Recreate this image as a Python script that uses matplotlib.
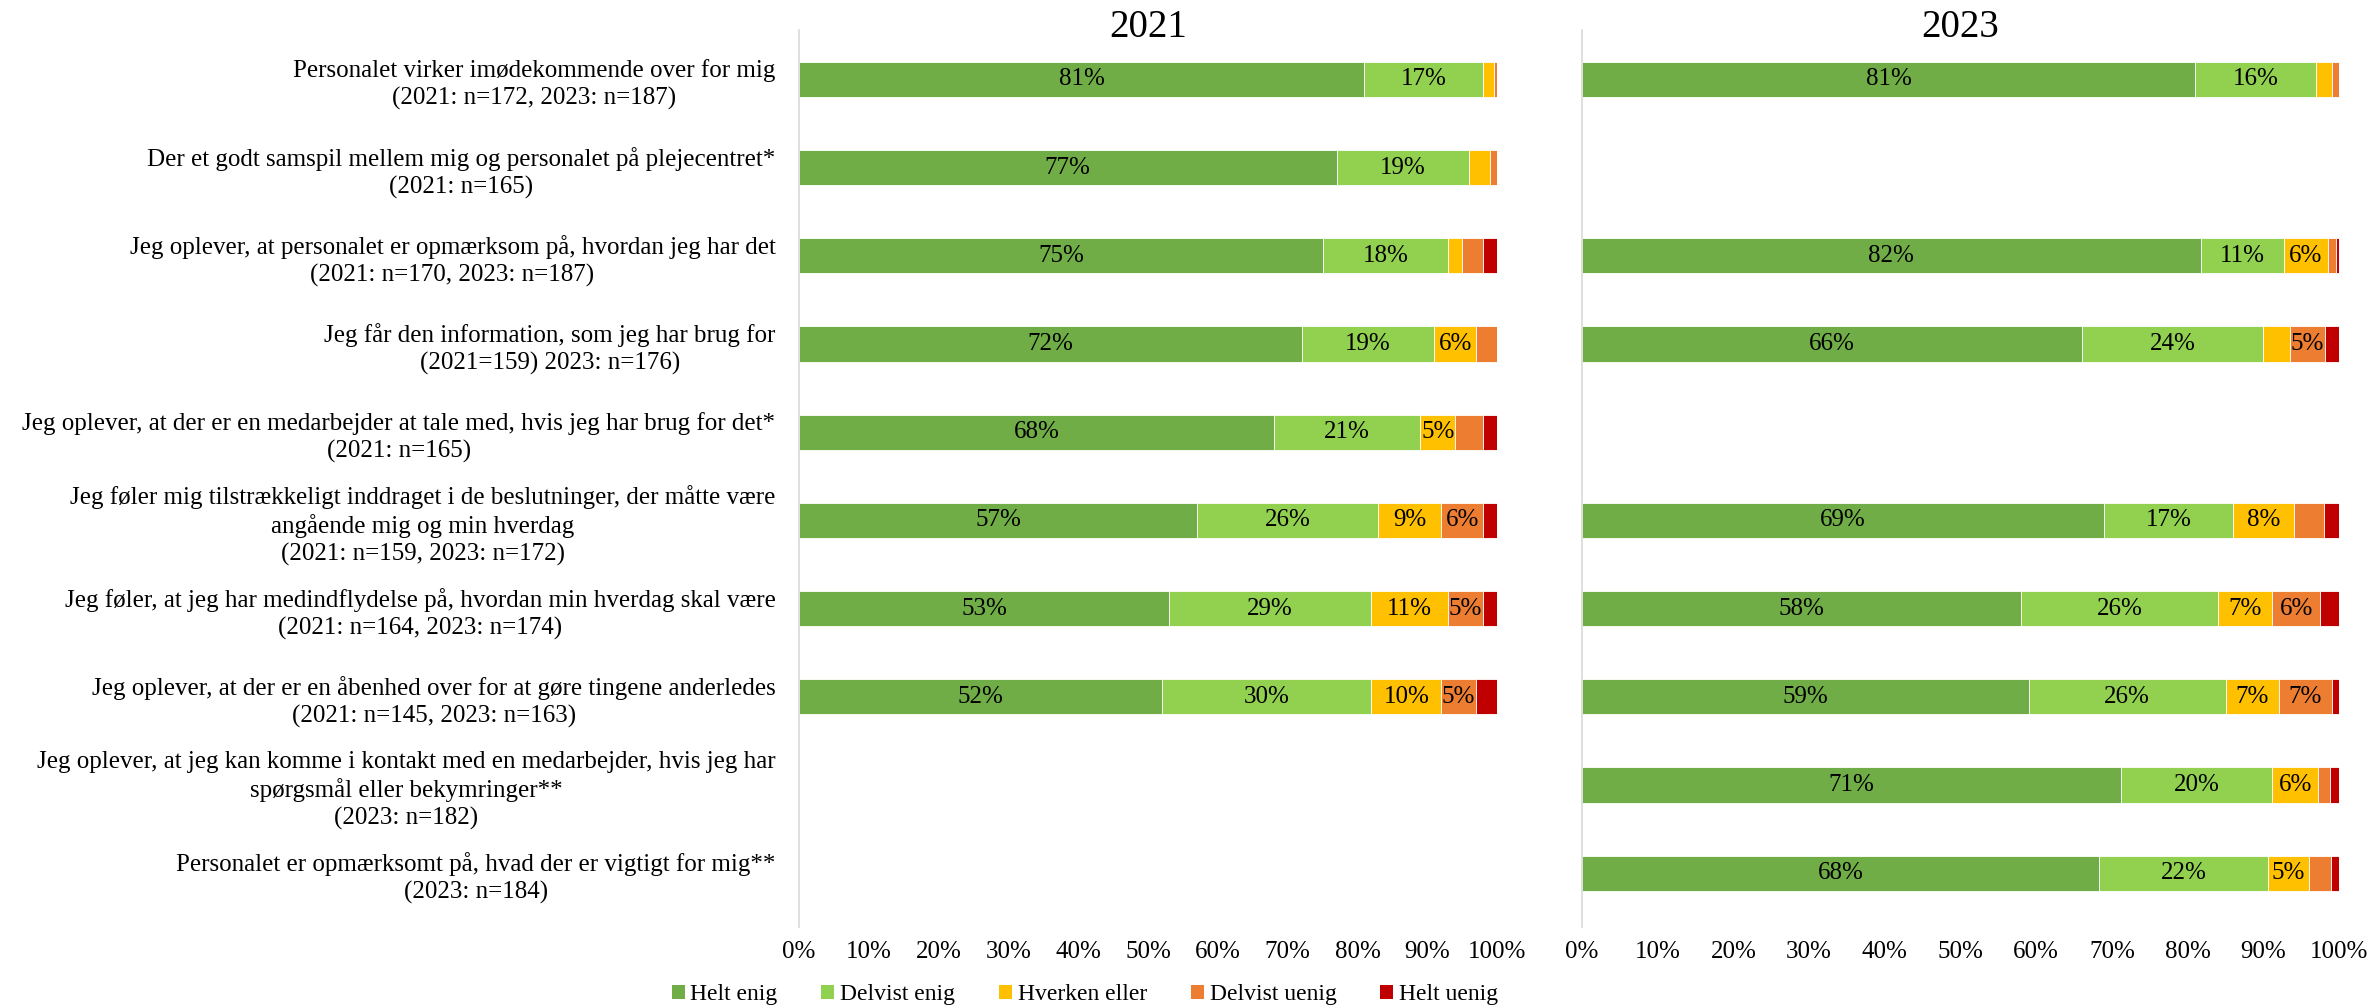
import numpy as np
import matplotlib
matplotlib.use("Agg")
import matplotlib.pyplot as plt
from matplotlib.patches import Patch

plt.rcParams['font.family'] = ['Liberation Serif', 'DejaVu Serif']

categories = [
    "Personalet virker imødekommende over for mig\n(2021: n=172, 2023: n=187)",
    "Der et godt samspil mellem mig og personalet på plejecentret*\n(2021: n=165)",
    "Jeg oplever, at personalet er opmærksom på, hvordan jeg har det\n(2021: n=170, 2023: n=187)",
    "Jeg får den information, som jeg har brug for\n(2021=159) 2023: n=176)",
    "Jeg oplever, at der er en medarbejder at tale med, hvis jeg har brug for det*\n(2021: n=165)",
    "Jeg føler mig tilstrækkeligt inddraget i de beslutninger, der måtte være\nangående mig og min hverdag\n(2021: n=159, 2023: n=172)",
    "Jeg føler, at jeg har medindflydelse på, hvordan min hverdag skal være\n(2021: n=164, 2023: n=174)",
    "Jeg oplever, at der er en åbenhed over for at gøre tingene anderledes\n(2021: n=145, 2023: n=163)",
    "Jeg oplever, at jeg kan komme i kontakt med en medarbejder, hvis jeg har\nspørgsmål eller bekymringer**\n(2023: n=182)",
    "Personalet er opmærksomt på, hvad der er vigtigt for mig**\n(2023: n=184)",
]

series_names = ["Helt enig", "Delvist enig", "Hverken eller", "Delvist uenig", "Helt uenig"]
colors = ["#70AD47", "#92D050", "#FFC000", "#ED7D31", "#C00000"]

nan = np.nan
# 2021 values (%)
helt_enig_2021     = [81, 77, 75, 72, 68, 57, 53, 52, nan, nan]
delvist_enig_2021  = [17, 19, 18, 19, 21, 26, 29, 30, nan, nan]
hverken_2021       = [1.5, 3, 2, 6, 5, 9, 11, 10, nan, nan]
delvist_uenig_2021 = [0.5, 1, 3, 3, 4, 6, 5, 5, nan, nan]
helt_uenig_2021    = [0, 0, 2, 0, 2, 2, 2, 3, nan, nan]

# 2023 values (%)
helt_enig_2023     = [81, nan, 81.7, 66, nan, 69, 58, 59, 71.2, 68.3]
delvist_enig_2023  = [16, nan, 11, 24, nan, 17, 26, 26, 20, 22.3]
hverken_2023       = [2, nan, 5.8, 3.5, nan, 8, 7.2, 7, 6, 5.4]
delvist_uenig_2023 = [1, nan, 1.1, 4.6, nan, 4, 6.3, 7, 1.6, 2.9]
helt_uenig_2023    = [0, nan, 0.4, 1.9, nan, 2, 2.5, 1, 1.2, 1.1]

years = ["2021", "2023"]
data = {
    "2021": [helt_enig_2021, delvist_enig_2021, hverken_2021, delvist_uenig_2021, helt_uenig_2021],
    "2023": [helt_enig_2023, delvist_enig_2023, hverken_2023, delvist_uenig_2023, helt_uenig_2023],
}
xticks = [0, 10, 20, 30, 40, 50, 60, 70, 80, 90, 100]
xticklabels = [f"{v}%" for v in xticks]

fig = plt.figure(figsize=(23.74, 10.06), dpi=100)
axes = [fig.add_axes([0.3366, 0.0785, 0.2940, 0.8917]),
        fig.add_axes([0.6664, 0.0785, 0.3189, 0.8917])]

y = np.arange(len(categories))
for ax, year in zip(axes, years):
    left = np.zeros(len(categories))
    for vals, name, col in zip(data[year], series_names, colors):
        v = np.array(vals, dtype=float)
        vv = np.nan_to_num(v)
        ax.barh(y, vv, left=left, height=0.40, color=col, edgecolor="white",
                linewidth=0.6, label=name)
        for yi, val, l in zip(y, v, left):
            if not np.isnan(val) and val >= 4.5:
                ax.text(l + val / 2, yi, f"{round(val):.0f}%", ha="center", va="center",
                        fontsize=18, color="black")
        left = left + vv
    ax.set_xlim(0, 100)
    ax.set_ylim(9.61, -0.56)
    ax.set_xticks(xticks)
    ax.set_xticklabels(xticklabels, fontsize=18)
    ax.tick_params(axis="x", length=0, pad=10)
    ax.tick_params(axis="y", length=0)
    for s in ["top", "right", "bottom"]:
        ax.spines[s].set_visible(False)
    ax.spines["left"].set_color("#D9D9D9")
    ax.spines["left"].set_linewidth(1.2)
    pos = ax.get_position()
    fig.text((pos.x0 + pos.x1) / 2, 1 - 27.5 / 1006, year, fontsize=28,
             ha="center", va="center")

axes[0].set_yticks(y)
axes[0].set_yticklabels(categories, fontsize=18, multialignment="center", linespacing=1.27)
axes[0].tick_params(axis="y", pad=17)
axes[1].set_yticks([])

handles = [Patch(facecolor=c, edgecolor="none") for c in colors]
fig.legend(handles, series_names, loc="center", bbox_to_anchor=(0.457, 0.011),
           ncol=5, frameon=False, fontsize=17, handlelength=0.55, handleheight=0.55,
           handletextpad=0.25, columnspacing=1.85, borderpad=0)

fig.savefig("out.png", dpi=100)
